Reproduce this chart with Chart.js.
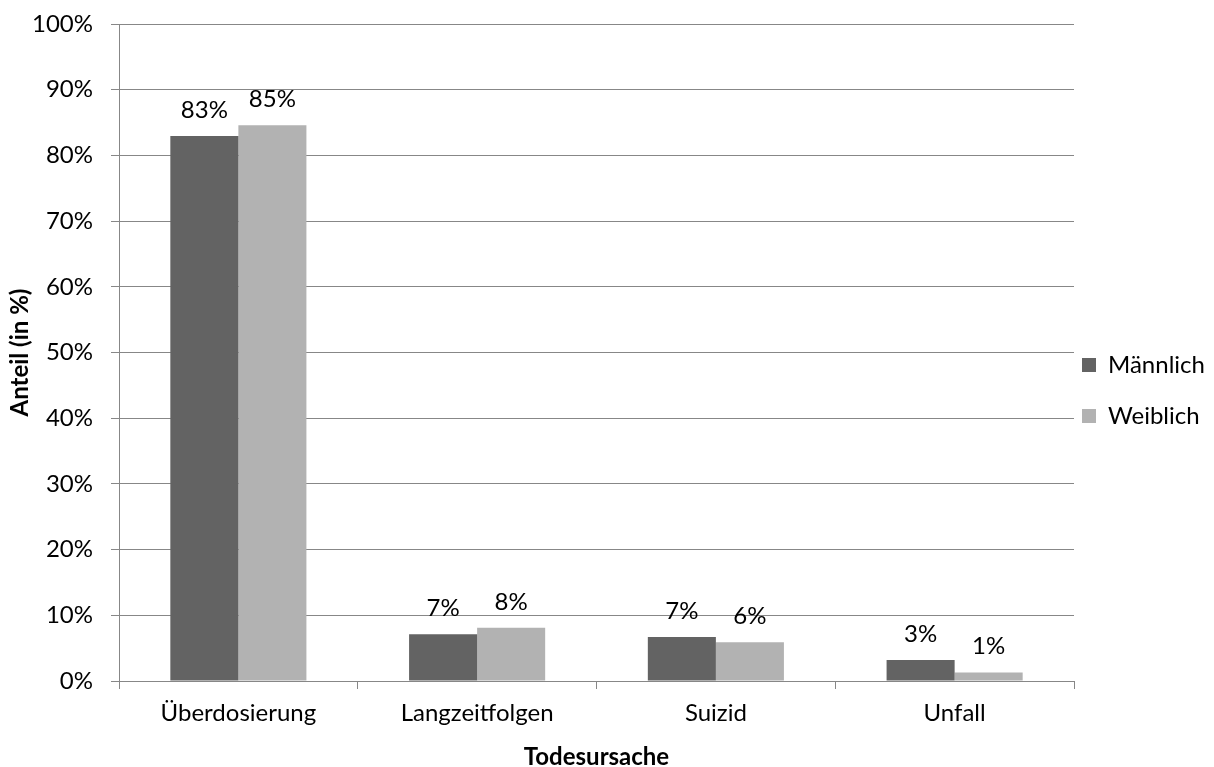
<!DOCTYPE html>
<html lang="de">
<head>
<meta charset="utf-8">
<title>Todesursache nach Geschlecht</title>
<script src="https://cdn.jsdelivr.net/npm/chart.js@4.4.1/dist/chart.umd.min.js"></script>
<style>
  html, body { margin: 0; padding: 0; background: #ffffff; }
  #wrap { width: 1214px; height: 767px; }
</style>
</head>
<body>
<div id="wrap"><canvas id="chart" width="1214" height="767"></canvas></div>
<script>
// Todesursachen, Anteil je Geschlecht in Prozent
const categories = ['Überdosierung', 'Langzeitfolgen', 'Suizid', 'Unfall'];
const maleShares = [82.95, 7.1, 6.7, 3.2];
const femaleShares = [84.6, 8.1, 5.9, 1.3];
const seriesNames = ['Männlich', 'Weiblich'];
const yTickValues = [0, 10, 20, 30, 40, 50, 60, 70, 80, 90, 100];
const xTitle = 'Todesursache';
const yTitle = 'Anteil (in %)';

const GRID = '#878787';
const FONT = 'Lato';

// Prozentwerte gerundet über jede Säule schreiben
const valueLabels = {
  id: 'valueLabels',
  afterDatasetsDraw(chart) {
    const ctx = chart.ctx;
    ctx.save();
    ctx.font = '24px ' + FONT;
    ctx.fillStyle = '#000000';
    ctx.textAlign = 'center';
    ctx.textBaseline = 'middle';
    chart.data.datasets.forEach((ds, i) => {
      chart.getDatasetMeta(i).data.forEach((bar, j) => {
        ctx.fillText(Math.round(ds.data[j]) + '%', bar.x, bar.y - 26);
      });
    });
    ctx.restore();
  }
};

// Legende etwas näher an die Zeichenfläche rücken
const legendPlacement = {
  id: 'legendPlacement',
  afterLayout(chart) {
    const lg = chart.legend;
    if (!lg) return;
    const dx = -19, dy = -5;
    lg.left += dx;
    lg.top += dy; lg.bottom += dy;
  }
};

function build() {
  Chart.defaults.font.family = FONT;
  Chart.defaults.color = '#000000';

  new Chart(document.getElementById('chart'), {
    type: 'bar',
    data: {
      labels: categories,
      datasets: [
        { label: seriesNames[0], data: maleShares, backgroundColor: '#636363' },
        { label: seriesNames[1], data: femaleShares, backgroundColor: '#b2b2b2' }
      ]
    },
    options: {
      responsive: false,
      animation: false,
      devicePixelRatio: 1,
      datasets: { bar: { barPercentage: 1, categoryPercentage: 0.57, borderWidth: 0 } },
      layout: { padding: { top: 24, left: 0, right: 0, bottom: 0 } },
      plugins: {
        tooltip: { enabled: false },
        legend: {
          position: 'right',
          maxWidth: 140,
          labels: {
            boxWidth: 14,
            boxHeight: 14,
            padding: 27,
            color: '#000000',
            font: { family: FONT, size: 24 }
          }
        }
      },
      scales: {
        x: {
          afterFit(scale) { scale.height = 86; },
          grid: {
            offset: true,
            drawOnChartArea: false,
            drawTicks: true,
            tickLength: 8,
            color: GRID,
            lineWidth: 1
          },
          border: { display: true, color: GRID, width: 1 },
          ticks: { padding: 10, color: '#000000', font: { family: FONT, size: 24 } },
          title: {
            display: true,
            text: xTitle,
            color: '#000000',
            font: { family: FONT, size: 24, weight: 'bold', lineHeight: 1 },
            padding: { top: 0, bottom: -2 }
          }
        },
        y: {
          min: 0,
          max: 100,
          afterFit(scale) {
            scale.width = 119;
            scale.paddingTop = 0;
          },
          afterBuildTicks(scale) { scale.ticks = yTickValues.map(v => ({ value: v })); },
          grid: {
            drawTicks: true,
            tickLength: 8,
            color: GRID,
            lineWidth: 1
          },
          border: { display: true, color: GRID, width: 1 },
          ticks: {
            padding: 18,
            color: '#000000',
            font: { family: FONT, size: 24 },
            callback: v => v + '%'
          },
          title: {
            display: true,
            text: yTitle,
            color: '#000000',
            font: { family: FONT, size: 24, weight: 'bold', lineHeight: 1.2 },
            padding: { top: 6, bottom: 4 }
          }
        }
      }
    },
    plugins: [valueLabels, legendPlacement]
  });
}

if (document.fonts && document.fonts.load) {
  Promise.all([
    document.fonts.load('24px ' + FONT),
    document.fonts.load('bold 24px ' + FONT)
  ]).then(build, build);
} else {
  build();
}
</script>
</body>
</html>
